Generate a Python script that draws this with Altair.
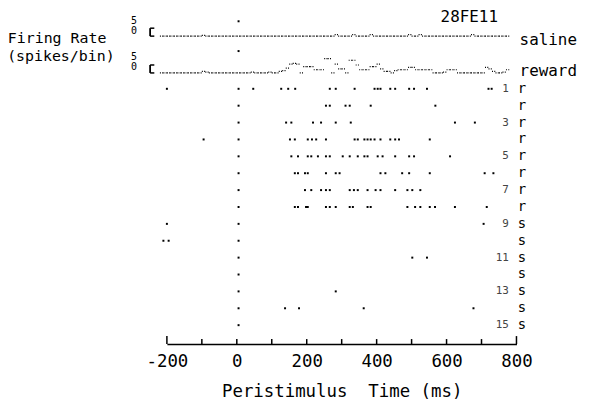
import altair as alt
import pandas as pd

# ---------------- data ----------------
trial_01 = [-200, 47, 127, 147, 167, 266, 283, 337, 394, 403, 411, 439, 453, 493, 507, 544, 720, 729]
trial_02 = [255, 266, 311, 323, 383, 568]
trial_03 = [141, 156, 218, 241, 283, 326, 624, 681]
trial_04 = [-95, 152, 166, 203, 215, 227, 255, 337, 346, 365, 374, 383, 394, 411, 439, 453, 464, 552]
trial_05 = [156, 175, 203, 213, 232, 255, 266, 303, 323, 346, 365, 374, 403, 417, 453, 493, 507, 610]
trial_06 = [166, 175, 195, 203, 255, 283, 294, 411, 425, 473, 493, 552, 709, 734]
trial_07 = [195, 213, 241, 255, 266, 323, 335, 346, 374, 397, 411, 453, 488, 502, 525]
trial_08 = [166, 175, 198, 203, 255, 266, 283, 323, 332, 374, 383, 488, 510, 525, 552, 567, 624, 715]
trial_09 = [-200, 706]
trial_10 = [-210, -195]
trial_11 = [502, 544]
trial_12 = []
trial_13 = [283]
trial_14 = [138, 178, 363, 677]
trial_15 = []
trials = [trial_01, trial_02, trial_03, trial_04, trial_05, trial_06, trial_07, trial_08,
          trial_09, trial_10, trial_11, trial_12, trial_13, trial_14, trial_15]
trial_types = ["r", "r", "r", "r", "r", "r", "r", "r", "s", "s", "s", "s", "s", "s", "s"]
numbered_trials = [1, 3, 5, 7, 9, 11, 13, 15]
stim_time = 5
extra_stim_rows = [-3.0, -1.235]

bin_times = list(range(-215, 776, 10))
saline_rate = [0, 0, 0, 0, 0, 0, 0, 0, 0, 0,
               0, 0, 0.5, 0, 0, 0, 0, 0, 0, 0,
               0, 0, 0, 0, 0, 0, 0, 0, 0, 0,
               0, 0, 0, 0, 0, 0, 0, 0, 0, 0,
               0, 0, 0, 0, 0, 0, 0, 0, 0, 0,
               1, 0, 0, 0, 0, 1, 0, 0, 0, 0,
               1, 0, 0, 0, 0, 0, 0, 0, 0, 0,
               0, 1, 0, 0, 1, 0, 0, 0, 0, 0,
               0, 0, 0, 0, 0, 0, 0, 0, 0, 1,
               0, 0, 0, 0, 0, 0, 0, 0, 0, 0]
reward_rate = [0, 0, 0, 0, 0, 0, 0, 0, 0, 0,
               0, 0, 1, 0.5, 0, 0, 0, 0, 0, 0,
               0, 0, 0, 0, 0, 0, 0.5, 0, 0, 0,
               0, 0.5, 0, 0, 1, 1.5, 3, 5.5, 6, 5.5,
               0, 4, 4, 4, 2, 2, 2, 9, 9, 0,
               5.5, 2.5, 2.5, 0, 8, 8, 5, 2, 2, 2,
               4, 4, 5.5, 2.5, 1, 1, 0, 1.5, 2, 2,
               2, 3.5, 3.5, 2, 2, 2, 2, 2, 0, 0,
               0, 0.5, 2, 2, 2, 0, 0, 0, 0, 0,
               0, 0, 0, 3.5, 2.5, 1, 0, 0, 0.5, 2]

x_ticks = [-200, -100, 0, 100, 200, 300, 400, 500, 600, 700, 800]
x_labels = [-200, 0, 200, 400, 600, 800]

# ---------------- layout constants ----------------
ROW_PX = 17.0
Y_TOP, Y_AXIS = -3.706, 16.118
SAL_BASE, REW_BASE = -2.12, 0.06
PER_SPIKE = 1.6 / ROW_PX
BIN_HALF = 5
MONO = "DejaVu Sans Mono"

# ---------------- tables ----------------
spk = pd.DataFrame([{"t": t, "row": i + 1} for i, tr in enumerate(trials) for t in tr])
stim = pd.DataFrame({"t": stim_time, "row": list(range(1, 16)) + extra_stim_rows})
trace = pd.DataFrame(
    [{"t": t - BIN_HALF, "t2": t + BIN_HALF, "series": "saline", "row": SAL_BASE - v * PER_SPIKE}
     for t, v in zip(bin_times, saline_rate)]
    + [{"t": t - BIN_HALF, "t2": t + BIN_HALF, "series": "reward", "row": REW_BASE - v * PER_SPIKE}
       for t, v in zip(bin_times, reward_rate)]
)
br_t, br_t2 = -248, -236
bracket_v = pd.DataFrame({"t": [br_t, br_t],
                          "row": [SAL_BASE, REW_BASE],
                          "row2": [SAL_BASE - 5 * PER_SPIKE, REW_BASE - 5 * PER_SPIKE]})
bracket_h = pd.DataFrame({"t": [br_t] * 4, "t2": [br_t2] * 4,
                          "row": [SAL_BASE, SAL_BASE - 5 * PER_SPIKE, REW_BASE, REW_BASE - 5 * PER_SPIKE]})
scale_lbl = pd.DataFrame({"t": [-294] * 4, "label": ["5", "0", "5", "0"],
                          "row": [SAL_BASE - 9.8 * PER_SPIKE, SAL_BASE - 3.5 * PER_SPIKE,
                                  REW_BASE - 9.8 * PER_SPIKE, REW_BASE - 3.5 * PER_SPIKE]})
ticks = pd.DataFrame({"t": x_ticks, "row": Y_AXIS,
                      "row2": [Y_AXIS - (8 if v in (-200, 800) else 5) / ROW_PX for v in x_ticks]})
ylab = pd.DataFrame({"t": [-655, -657], "row": [-2.0, -0.94], "label": ["Firing Rate", "(spikes/bin)"]})
cond = pd.DataFrame({"t": [809, 809], "row": [-1.88, -0.06], "label": ["saline", "reward"]})
ident = pd.DataFrame({"t": [665], "row": [-3.27], "label": ["28FE11"]})
nums = pd.DataFrame({"t": 778, "row": numbered_trials, "label": [str(n) for n in numbered_trials]})
types = pd.DataFrame({"t": 816, "row": list(range(1, 16)), "label": trial_types})

# ---------------- encodings ----------------
xscale = alt.Scale(domain=[-200, 800], nice=False, zero=False)
xaxis = alt.Axis(values=x_labels,
                 labelExpr="datum.value < 0 ? '-' + abs(datum.value) : '' + datum.value",
                 ticks=False, tickSize=0, grid=False, domain=True, domainColor="black",
                 domainWidth=1.5, labelFont=MONO, labelFontSize=17.5, labelColor="black",
                 labelPadding=9, labelFlush=False, labelOverlap=False,
                 title="Peristimulus\u00a0 Time (ms)", titleFont=MONO, titleFontSize=17.5,
                 titleFontWeight="normal", titleColor="black", titlePadding=12)
yscale = alt.Scale(domain=[Y_TOP, Y_AXIS], reverse=True, nice=False, zero=False)


def X():
    return alt.X("t:Q", scale=xscale, axis=xaxis)


def Y():
    return alt.Y("row:Q", scale=yscale, axis=None)


layers = [
    alt.Chart(spk).mark_square(size=4, color="black", opacity=1).encode(x=X(), y=Y()),
    alt.Chart(stim).mark_square(size=4, color="black", opacity=1).encode(x=X(), y=Y()),
    alt.Chart(trace).mark_rule(color="black", strokeWidth=1.2, strokeDash=[1, 1.3]).encode(
        x=X(), x2=alt.X2("t2:Q"), y=Y(), detail="series:N"),
    alt.Chart(bracket_v).mark_rule(color="black", strokeWidth=1.8).encode(
        x=X(), y=Y(), y2=alt.Y2("row2:Q")),
    alt.Chart(bracket_h).mark_rule(color="black", strokeWidth=1.5).encode(
        x=X(), x2=alt.X2("t2:Q"), y=Y()),
    alt.Chart(ticks).mark_rule(color="black", strokeWidth=1.5).encode(
        x=X(), y=Y(), y2=alt.Y2("row2:Q")),
    alt.Chart(scale_lbl).mark_text(font=MONO, fontSize=10, align="center", baseline="middle",
                                   color="black").encode(x=X(), y=Y(), text="label:N"),
    alt.Chart(ylab).mark_text(font=MONO, fontSize=15, align="left", baseline="middle",
                              color="black").encode(x=X(), y=Y(), text="label:N"),
    alt.Chart(cond).mark_text(font=MONO, fontSize=16, align="left", baseline="middle",
                              color="black").encode(x=X(), y=Y(), text="label:N"),
    alt.Chart(ident).mark_text(font=MONO, fontSize=16, align="center", baseline="middle",
                               color="black").encode(x=X(), y=Y(), text="label:N"),
    alt.Chart(nums).mark_text(font=MONO, fontSize=11, align="right", baseline="middle",
                              color="#444").encode(x=X(), y=Y(), text="label:N"),
    alt.Chart(types).mark_text(font=MONO, fontSize=14, align="center", baseline="middle",
                               color="black").encode(x=X(), y=Y(), text="label:N"),
]

chart = alt.layer(*layers).properties(
    width=352, height=337,
    autosize=alt.AutoSizeParams(type="none"),
    padding={"left": 160, "top": 0, "right": 68, "bottom": 56},
    background="white",
).configure_view(stroke=None)

chart.save("out.html", embed_options={"renderer": "svg", "actions": False})
